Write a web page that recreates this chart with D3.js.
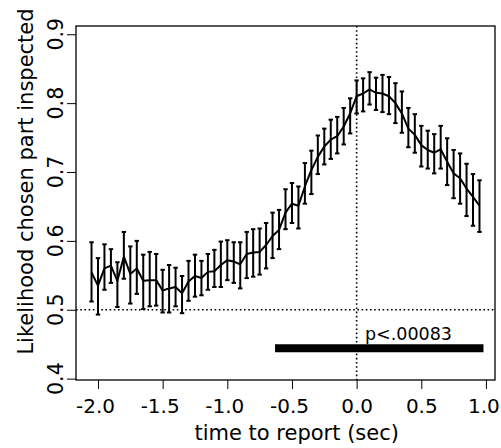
<!DOCTYPE html>
<html>
<head>
<meta charset="utf-8">
<script src="https://cdn.jsdelivr.net/npm/d3@7"></script>
<style>
  html, body { margin: 0; padding: 0; background: #fff; }
  text { font-family: "DejaVu Sans", sans-serif; fill: #000; }
</style>
</head>
<body>
<div id="chart"></div>
<script>
// time relative to report (sec), one point every 50 ms
const times = [
  -2.05, -2.00, -1.95, -1.90, -1.85, -1.80, -1.75, -1.70, -1.65, -1.60,
  -1.55, -1.50, -1.45, -1.40, -1.35, -1.30, -1.25, -1.20, -1.15, -1.10,
  -1.05, -1.00, -0.95, -0.90, -0.85, -0.80, -0.75, -0.70, -0.65, -0.60,
  -0.55, -0.50, -0.45, -0.40, -0.35, -0.30, -0.25, -0.20, -0.15, -0.10,
  -0.05, 0.00, 0.05, 0.10, 0.15, 0.20, 0.25, 0.30, 0.35, 0.40,
  0.45, 0.50, 0.55, 0.60, 0.65, 0.70, 0.75, 0.80, 0.85, 0.90, 0.95
];

// likelihood that chosen part is inspected (mean)
const meanVals = [
  0.554, 0.535, 0.560, 0.564, 0.542, 0.577, 0.552, 0.560, 0.542, 0.543,
  0.543, 0.528, 0.531, 0.533, 0.524, 0.541, 0.549, 0.546, 0.555, 0.556,
  0.565, 0.572, 0.570, 0.566, 0.581, 0.583, 0.584, 0.594, 0.607, 0.616,
  0.641, 0.654, 0.651, 0.679, 0.703, 0.722, 0.737, 0.747, 0.752, 0.766,
  0.785, 0.810, 0.814, 0.820, 0.815, 0.814, 0.810, 0.800, 0.785, 0.763,
  0.754, 0.739, 0.732, 0.728, 0.733, 0.715, 0.698, 0.691, 0.676, 0.664, 0.651
];

// error bar ends
const upperVals = [
  0.598, 0.575, 0.595, 0.588, 0.569, 0.613, 0.592, 0.600, 0.580, 0.584,
  0.581, 0.558, 0.565, 0.561, 0.549, 0.571, 0.580, 0.571, 0.581, 0.587,
  0.599, 0.601, 0.598, 0.598, 0.613, 0.617, 0.618, 0.626, 0.641, 0.645,
  0.675, 0.684, 0.679, 0.713, 0.731, 0.753, 0.763, 0.776, 0.780, 0.793,
  0.807, 0.833, 0.836, 0.845, 0.837, 0.841, 0.838, 0.829, 0.817, 0.793,
  0.784, 0.767, 0.760, 0.755, 0.767, 0.749, 0.732, 0.727, 0.712, 0.697, 0.688
];

const lowerVals = [
  0.512, 0.493, 0.529, 0.539, 0.504, 0.545, 0.509, 0.523, 0.501, 0.505,
  0.506, 0.496, 0.496, 0.505, 0.495, 0.513, 0.519, 0.521, 0.529, 0.533,
  0.533, 0.543, 0.539, 0.531, 0.546, 0.548, 0.551, 0.560, 0.575, 0.588,
  0.617, 0.626, 0.618, 0.654, 0.668, 0.697, 0.711, 0.719, 0.727, 0.740,
  0.756, 0.785, 0.788, 0.798, 0.790, 0.787, 0.784, 0.771, 0.757, 0.736,
  0.728, 0.708, 0.705, 0.698, 0.705, 0.681, 0.662, 0.654, 0.636, 0.622, 0.613
];

const xTicks = [-2.0, -1.5, -1.0, -0.5, 0.0, 0.5, 1.0];
const yTicks = [0.4, 0.5, 0.6, 0.7, 0.8, 0.9];

// chance level and significance window
const chanceLevel = 0.5;
const sigStart = -0.6;
const sigEnd = 0.95;
const sigLevel = 0.444;
const sigLabel = 'p<.00083';

const W = 501, H = 448;
const frame = { left: 76, right: 495, top: 26, bottom: 380 };

const svg = d3.select('#chart').append('svg')
  .attr('width', W)
  .attr('height', H);

svg.append('rect').attr('width', W).attr('height', H).attr('fill', '#fff');

// R-style 4% extension of the time range
const xr = d3.extent(times);
const xPad = (xr[1] - xr[0]) * 0.04;
const x = d3.scaleLinear()
  .domain([xr[0] - xPad, xr[1] + xPad])
  .range([frame.left, frame.right]);

const y = d3.scaleLinear()
  .domain([0.398, 0.912])
  .range([frame.bottom, frame.top]);

const data = times.map((t, i) => ({
  t, m: meanVals[i], hi: upperVals[i], lo: lowerVals[i]
}));

const dotted = '1.6,2.6';

// reference lines
svg.append('line')
  .attr('x1', frame.left).attr('x2', frame.right)
  .attr('y1', y(chanceLevel)).attr('y2', y(chanceLevel))
  .attr('stroke', '#000').attr('stroke-width', 1.6)
  .attr('stroke-dasharray', dotted);

svg.append('line')
  .attr('x1', x(0)).attr('x2', x(0))
  .attr('y1', frame.top).attr('y2', frame.bottom)
  .attr('stroke', '#000').attr('stroke-width', 1.6)
  .attr('stroke-dasharray', dotted);

// error bars
const capW = 2.2;
const eb = svg.append('g')
  .attr('stroke', '#000')
  .attr('stroke-width', 2);

eb.selectAll('.bar')
  .data(data)
  .enter()
  .append('line')
  .attr('x1', (d) => x(d.t)).attr('x2', (d) => x(d.t))
  .attr('y1', (d) => y(d.lo)).attr('y2', (d) => y(d.hi));

eb.selectAll('.capHi')
  .data(data)
  .enter()
  .append('line')
  .attr('x1', (d) => x(d.t) - capW).attr('x2', (d) => x(d.t) + capW)
  .attr('y1', (d) => y(d.hi)).attr('y2', (d) => y(d.hi));

eb.selectAll('.capLo')
  .data(data)
  .enter()
  .append('line')
  .attr('x1', (d) => x(d.t) - capW).attr('x2', (d) => x(d.t) + capW)
  .attr('y1', (d) => y(d.lo)).attr('y2', (d) => y(d.lo));

// mean line
svg.append('path')
  .datum(data)
  .attr('fill', 'none')
  .attr('stroke', '#000')
  .attr('stroke-width', 2)
  .attr('stroke-linejoin', 'round')
  .attr('d', d3.line().x((d) => x(d.t)).y((d) => y(d.m)));

// significance bar + label
svg.append('line')
  .attr('x1', x(sigStart)).attr('x2', x(sigEnd))
  .attr('y1', y(sigLevel)).attr('y2', y(sigLevel))
  .attr('stroke', '#000').attr('stroke-width', 8)
  .attr('stroke-linecap', 'square');

svg.append('text')
  .attr('x', 365)
  .attr('y', 339.5)
  .style('font-size', '17.5px')
  .text(sigLabel);

// x axis
const xAxis = d3.axisBottom(x)
  .tickValues(xTicks)
  .tickSize(9)
  .tickPadding(10)
  .tickFormat((v) => v.toFixed(1));

const gx = svg.append('g')
  .attr('transform', `translate(0,${frame.bottom})`)
  .call(xAxis);
gx.select('.domain').remove();
gx.selectAll('line').attr('stroke', '#000');
gx.selectAll('text')
  .style('font-size', '20px')
  .style('font-family', '"DejaVu Sans", sans-serif')
  .attr('dx', (v) => (v < 0 ? -3 : (v >= 1 ? -2.5 : 0)));

// y axis (ticks only, labels rotated like R)
const gy = svg.append('g')
  .attr('transform', `translate(${frame.left},0)`)
  .call(d3.axisLeft(y).tickValues(yTicks).tickSize(9).tickFormat(''));
gy.select('.domain').remove();
gy.selectAll('line').attr('stroke', '#000');

svg.append('g')
  .selectAll('text')
  .data(yTicks)
  .enter()
  .append('text')
  .attr('transform', (v) => `translate(63,${y(v)}) rotate(-90)`)
  .attr('text-anchor', 'middle')
  .style('font-size', '20.5px')
  .text((v) => v.toFixed(1));

// frame
svg.append('rect')
  .attr('x', frame.left).attr('y', frame.top)
  .attr('width', frame.right - frame.left)
  .attr('height', frame.bottom - frame.top)
  .attr('fill', 'none')
  .attr('stroke', '#000')
  .attr('stroke-width', 1.3);

// axis titles
svg.append('text')
  .attr('x', 296.7)
  .attr('y', 440)
  .attr('text-anchor', 'middle')
  .style('font-size', '21px')
  .text('time to report (sec)');

svg.append('text')
  .attr('transform', 'translate(33,181.5) rotate(-90)')
  .attr('text-anchor', 'middle')
  .style('font-size', '21px')
  .text('Likelihood chosen part inspected');
</script>
</body>
</html>
